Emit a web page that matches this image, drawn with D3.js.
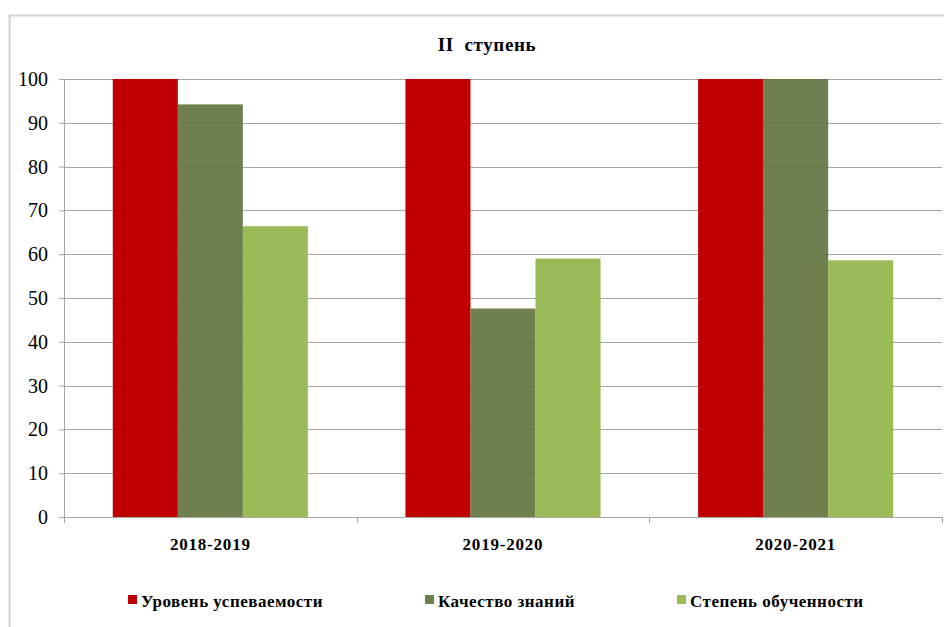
<!DOCTYPE html>
<html>
<head>
<meta charset="utf-8">
<script src="https://cdn.jsdelivr.net/npm/d3@7"></script>
<style>
  body { margin: 0; background: #fff; }
</style>
</head>
<body>
<div class="chart"></div>
<script>
var years = ['2018-2019', '2019-2020', '2020-2021'];
var seriesNames = ['Уровень успеваемости', 'Качество знаний', 'Степень обученности'];
var uspevaemost = [100, 100, 100];
var kachestvo = [94.2, 47.6, 100];
var obuchennost = [66.4, 59.0, 58.6];
var yTicks = [0, 10, 20, 30, 40, 50, 60, 70, 80, 90, 100];
var colors = ['#c00000', '#5f713b', '#9bbb59'];

var FONT = 'Liberation Serif';

var W = 944, H = 627;
var margin = { top: 79, right: 2, bottom: 110, left: 64 };
var width = W - margin.left - margin.right;
var height = H - margin.top - margin.bottom;

var svg = d3.select('.chart')
    .append('svg')
    .attr('width', W)
    .attr('height', H)
    .attr('font-family', FONT);

// outer frame (bottom and right edges fall outside the picture)
svg.append('rect')
    .attr('x', 9.5).attr('y', 15.5)
    .attr('width', W + 20).attr('height', H + 20)
    .style('fill', 'none')
    .style('stroke', '#d4d4d4')
    .style('stroke-width', 2);

svg.append('text')
    .attr('x', 487).attr('y', 51)
    .attr('text-anchor', 'middle')
    .attr('font-family', FONT)
    .attr('font-size', 19)
    .attr('font-weight', 'bold')
    .attr('letter-spacing', 0.6)
    .attr('xml:space', 'preserve')
    .text('II  ступень');

var g = svg.append('g')
    .attr('transform', `translate(${margin.left}, ${margin.top})`);

var x0 = d3.scaleBand().domain(years).range([0, width]).padding(0);
var bw = x0.bandwidth();
var gap = bw * 0.75 / 4.5;
var x1 = d3.scaleBand().domain(d3.range(seriesNames.length)).range([gap, bw - gap]).padding(0);
var y = d3.scaleLinear().domain([0, 100]).range([height, 0]);

// gridlines
g.selectAll('.grid')
    .data(yTicks.filter(d => d > 0))
    .enter()
    .append('line')
    .attr('x1', 0).attr('x2', width)
    .attr('y1', d => Math.round(y(d)) + 0.5)
    .attr('y2', d => Math.round(y(d)) + 0.5)
    .style('stroke', '#a6a6a6')
    .style('stroke-width', 1);

var data = years.map((yr, i) => ({
    year: yr,
    values: [uspevaemost[i], kachestvo[i], obuchennost[i]]
}));

var groups = g.selectAll('.group')
    .data(data)
    .enter()
    .append('g')
    .attr('transform', d => `translate(${x0(d.year)}, 0)`);

groups.selectAll('rect')
    .data(d => d.values.map((v, j) => ({ v: v, j: j })))
    .enter()
    .append('rect')
    .attr('x', d => x1(d.j))
    .attr('width', x1.bandwidth())
    .attr('y', d => y(d.v))
    .attr('height', d => height - y(d.v))
    .style('fill', d => colors[d.j])
    .style('fill-opacity', d => d.j === 1 ? 0.9 : 1);

// y axis
var yAxis = g.append('g')
    .call(d3.axisLeft(y).tickValues(yTicks).tickSize(5).tickPadding(11).tickFormat(d3.format('d')))
    .attr('font-family', FONT)
    .attr('font-size', 20);
yAxis.select('.domain').style('stroke', '#a6a6a6');
yAxis.selectAll('.tick line').style('stroke', '#a6a6a6');
yAxis.selectAll('.tick text').attr('fill', '#000');

// x axis
var xAxis = g.append('g')
    .attr('transform', `translate(0, ${height})`);
xAxis.append('line')
    .attr('x1', 0).attr('x2', width)
    .attr('y1', 0.5).attr('y2', 0.5)
    .style('stroke', '#a6a6a6');
xAxis.selectAll('.xtick')
    .data(years.map(d => x0(d)).concat([width]))
    .enter()
    .append('line')
    .attr('x1', d => Math.round(d) + 0.5).attr('x2', d => Math.round(d) + 0.5)
    .attr('y1', 0).attr('y2', 6)
    .style('stroke', '#a6a6a6');
xAxis.selectAll('.xlabel')
    .data(years)
    .enter()
    .append('text')
    .attr('x', d => x0(d) + bw / 2)
    .attr('y', 33)
    .attr('text-anchor', 'middle')
    .attr('font-family', FONT)
    .attr('font-size', 17)
    .attr('font-weight', 'bold')
    .attr('letter-spacing', 0.8)
    .text(d => d);

// legend
var legendX = [128, 425, 677];
var legend = svg.selectAll('.legend')
    .data(seriesNames)
    .enter()
    .append('g')
    .attr('transform', (d, i) => `translate(${legendX[i]}, 595)`);
legend.append('rect')
    .attr('width', 9).attr('height', 9)
    .style('fill', (d, i) => colors[i])
    .style('fill-opacity', (d, i) => i === 1 ? 0.9 : 1);
legend.append('text')
    .attr('x', 13).attr('y', 12)
    .attr('font-family', FONT)
    .attr('font-size', 17)
    .attr('font-weight', 'bold')
    .attr('letter-spacing', 0.5)
    .text(d => d);
</script>
</body>
</html>
